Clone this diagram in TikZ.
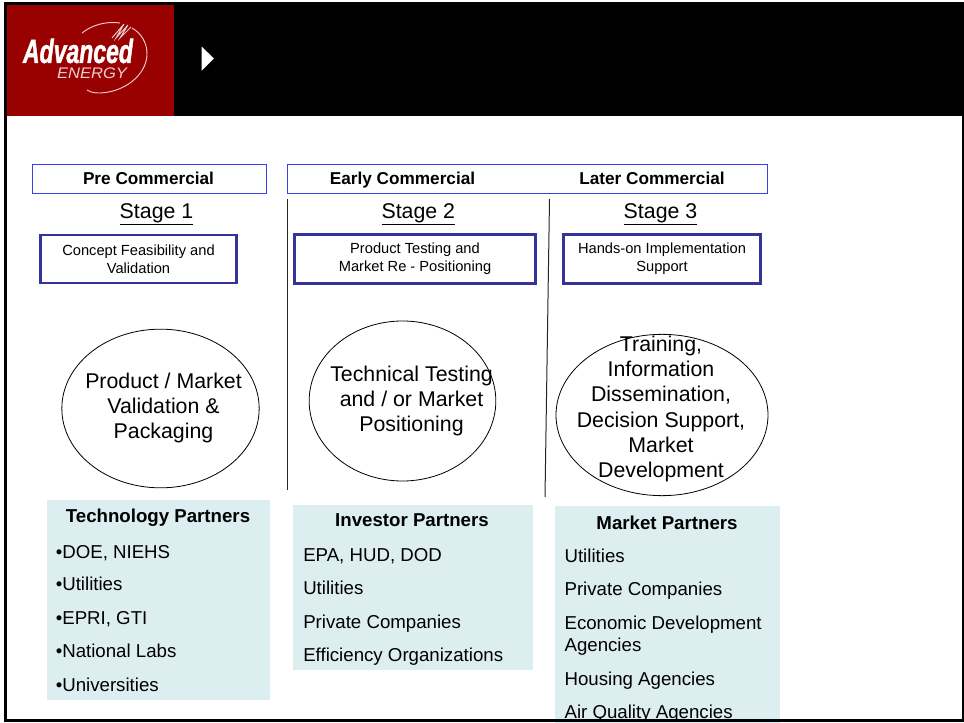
\documentclass[tikz,border=0pt]{standalone}
\usepackage{fontspec}
\setmainfont{Liberation Sans}
\newfontfamily\logofont{Liberation Sans}[BoldItalicFeatures={FakeBold=1.6}]
\usetikzlibrary{positioning,shapes.geometric}
\definecolor{bandblue}{HTML}{3C3CF0}
\definecolor{stageblue}{HTML}{333399}
\definecolor{logored}{HTML}{990000}
\definecolor{logopink}{HTML}{EBCFCF}
\definecolor{partnerfill}{HTML}{DDEEF0}
\tikzset{
  phasebox/.style={draw=bandblue, line width=0.75pt, fill=white, inner sep=0pt},
  phasetext/.style={font=\fontsize{12.9}{15}\selectfont\bfseries, inner sep=0pt, anchor=base},
  stagetext/.style={font=\fontsize{16}{18}\selectfont, inner sep=0pt, anchor=base},
  taskbox/.style={draw=stageblue, line width=2pt, fill=white, align=center, font=\fontsize{11}{13.5}\selectfont, inner sep=0pt},
  goalcircle/.style={draw, ellipse, line width=0.6pt, inner sep=0pt},
  goaltext/.style={align=center, font=\fontsize{16}{19}\selectfont, inner sep=0pt},
  partnerbox/.style={fill=partnerfill},
  partnerhead/.style={font=\fontsize{14}{16}\selectfont\bfseries, inner sep=0pt, anchor=base},
  partneritem/.style={font=\fontsize{14}{16}\selectfont, inner sep=0pt, anchor=base west},
}
\begin{document}
\begin{tikzpicture}[x=0.75pt, y=-0.75pt]
  \useasboundingbox (0,0) rectangle (964,723);
  % banner
  \fill[black] (4.3,2) rectangle (964,116.5);
  \fill[black] (4.3,2) rectangle (6.8,721.5);
  \fill[black] (962,2) rectangle (964,721.5);
  \fill[logored] (6.8,4.7) rectangle (173.7,116.5);
  % logo
  \draw[logopink, line width=0.7pt] (100,93) .. controls (125,92) and (146,75) .. (147,55) .. controls (147.500,43) and (141,33) .. (132,28);
  \draw[logopink, line width=0.7pt] (87,90) .. controls (92,93) and (96,93) .. (100,93);
  \draw[logopink, line width=0.7pt] (82,33) .. controls (92,25) and (106,21) .. (120,23);
  \draw[logopink, line width=0.7pt] (112,38) -- (124,24) -- (116,38) -- (128,25) -- (120,38) -- (131,27);
  \node[white, font=\logofont\fontsize{25}{26}\selectfont\bfseries\itshape, inner sep=0pt, xscale=0.69] (logoname) at (78,51) {Advanced};
  \node[logopink, font=\fontsize{11.5}{12}\selectfont\itshape, inner sep=0pt, anchor=base, xscale=1.08] (logosub) at (92,79) {ENERGY};
  \fill[white] (201.7,46.7) -- (214,58.5) -- (201.7,70.7) -- cycle;

  % phases
  \node[phasebox, minimum width=175pt, minimum height=22pt] (prebar) at (149.4,179) {};
  \node[phasebox, minimum width=360pt, minimum height=22pt] (salesbar) at (527.5,179) {};
  \node[phasetext] (pre) at (148.5,185) {Pre Commercial};
  \node[phasetext] (early) at (402.5,185) {Early Commercial};
  \node[phasetext] (later) at (652,185) {Later Commercial};

  % stages
  \node[stagetext] (stageA) at (156.5,218.3) {\underline{Stage 1}};
  \node[stagetext] (stageB) at (418.3,218.3) {\underline{Stage 2}};
  \node[stagetext] (stageC) at (660.5,218.3) {\underline{Stage 3}};

  % dividers
  \coordinate (splitAtop) at (287.5,199);
  \coordinate (splitAend) at (287.5,490);
  \coordinate (splitBtop) at (549.5,199);
  \coordinate (splitBend) at (545,497);
  \draw[line width=0.75pt, black!85] (splitAtop) -- (splitAend);
  \draw[line width=0.75pt, black!85] (splitBtop) -- (splitBend);

  % tasks
  \node[taskbox, minimum width=147pt, minimum height=36pt] (taskA) at (138.5,259) {Concept Feasibility and\\Validation};
  \node[taskbox, minimum width=180.500pt, minimum height=36.500pt] (taskB) at (415,259) {Product Testing and\\Market Re - Positioning};
  \node[taskbox, minimum width=148pt, minimum height=36.500pt] (taskC) at (662,259) {Hands-on Implementation\\Support};

  % goals
  \node[goalcircle, minimum width=148pt, minimum height=119pt] (goalA) at (160.5,408.5) {};
  \node[goalcircle, minimum width=140pt, minimum height=120pt] (goalB) at (402.5,401) {};
  \node[goalcircle, minimum width=159pt, minimum height=121pt] (goalC) at (662,415) {};
  \node[goaltext] (goalAtext) at (163.5,408) {Product / Market\\Validation \&\\Packaging};
  \node[goaltext] (goalBtext) at (411.5,401) {Technical Testing\\and / or Market\\Positioning};
  \node[goaltext] (goalCtext) at (661,409) {Training,\\Information\\Dissemination,\\Decision Support,\\Market\\Development};

  % partners
  \fill[partnerbox] (47,500) rectangle (270,700);
  \fill[partnerbox] (293,505) rectangle (533,670);
  \fill[partnerbox] (555,506) rectangle (780,723);

  \node[partnerhead] (techhead) at (158,522.7) {Technology Partners};
  \foreach \yy/\name in {558.2/{DOE, NIEHS}, 590.5/Utilities, 624.5/{EPRI, GTI}, 657.2/National Labs, 691.2/Universities}
    \node[partneritem] at (55.5,\yy) {\textbullet\name};

  \node[partnerhead] (investhead) at (412,526) {Investor Partners};
  \foreach \yy/\name in {561.2/{EPA, HUD, DOD}, 594.2/Utilities, 628.2/Private Companies, 661.2/Efficiency Organizations}
    \node[partneritem] at (303,\yy) {\name};

  \node[partnerhead] (markethead) at (667,529) {Market Partners};
  \foreach \yy/\name in {562.2/Utilities, 595.5/Private Companies, 629.5/Economic Development, 651.5/Agencies, 685.5/Housing Agencies, 718.2/Air Quality Agencies}
    \node[partneritem] at (564.3,\yy) {\name};

  % frame runs over the last box
  \fill[black] (4.3,719) rectangle (964,721.5);
\end{tikzpicture}
\end{document}
